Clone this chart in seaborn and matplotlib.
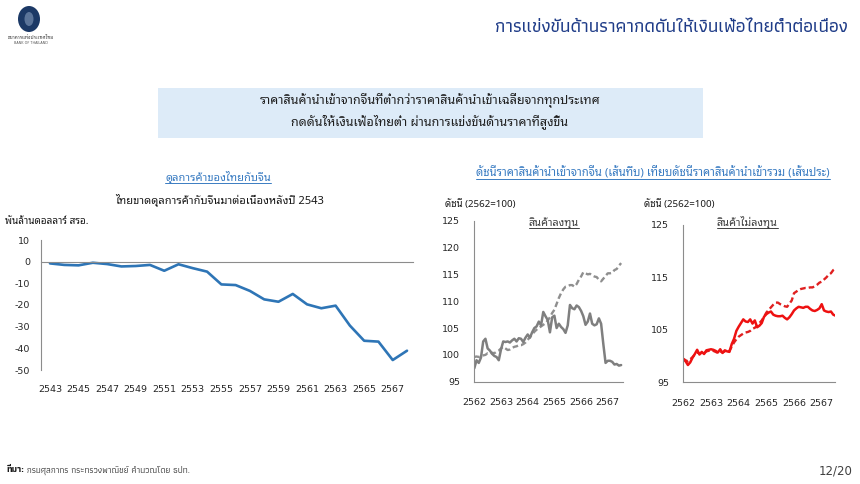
import matplotlib
matplotlib.use("Agg")
import matplotlib.pyplot as plt
import matplotlib.patches as mpatches
from matplotlib.lines import Line2D
import numpy as np
import pandas as pd
import seaborn as sns

# ---------------- data ----------------
trade_years = list(range(2543, 2569))
trade_balance = [-0.8, -1.5, -1.7, -0.5, -1.1, -2.2, -2.0, -1.5, -4.2, -1.2,
                 -3.0, -4.6, -10.5, -10.8, -13.5, -17.4, -18.5, -14.9, -19.7, -21.5,
                 -20.3, -29.5, -36.5, -36.9, -45.4, -41.1]

n_months = 67  # Jan 2562 .. Jul 2567
cap_china = [97.5, 99.0, 98.5, 99.5, 102.5, 103.0, 101.2, 100.8, 100.2, 99.8,
             99.6, 99.0, 101.0, 102.5, 102.4, 102.5, 102.3, 102.7, 103.0, 102.5,
             103.1, 103.0, 102.4, 103.2, 103.8, 103.2, 104.2, 105.0, 105.3, 106.2,
             105.5, 108.0, 107.2, 106.5, 104.2, 107.0, 107.3, 105.0, 105.8, 105.2,
             104.8, 104.1, 105.5, 109.3, 108.7, 108.5, 109.2, 108.9, 108.2, 107.2,
             105.6, 106.2, 107.7, 105.8, 105.5, 105.7, 106.8, 105.8, 102.0, 98.5,
             98.9, 98.9, 98.7, 98.2, 98.3, 98.0, 98.1]
cap_total = [99.6, 99.7, 99.6, 99.8, 99.9, 100.0, 100.3, 100.2, 100.4, 100.3,
             100.6, 100.8, 101.2, 101.5, 101.2, 100.9, 101.0, 101.3, 101.5, 101.6,
             101.8, 101.8, 102.0, 102.3, 102.8, 103.3, 103.8, 104.3, 104.7, 105.0,
             105.3, 105.6, 105.9, 106.4, 107.0, 107.8, 108.4, 109.5, 110.6, 111.5,
             112.2, 112.7, 112.8, 113.0, 113.0, 112.7, 113.2, 114.0, 114.6, 115.4,
             115.2, 115.0, 115.1, 114.8, 114.6, 114.5, 114.0, 113.7, 114.2, 114.7,
             115.2, 115.2, 115.3, 115.8, 116.0, 116.6, 117.1]
noncap_china = [99.4, 99.0, 98.3, 98.8, 99.7, 100.4, 101.2, 100.3, 100.8, 100.4,
                101.1, 101.2, 101.3, 101.2, 101.0, 100.7, 101.3, 100.6, 101.1, 100.9,
                100.8, 102.3, 103.3, 104.8, 105.6, 106.3, 107.0, 106.6, 106.5, 107.0,
                106.2, 106.8, 105.5, 105.8, 106.3, 107.5, 108.0, 108.3, 108.5, 107.9,
                107.7, 107.6, 107.6, 107.7, 107.3, 107.0, 107.4, 108.0, 108.7, 109.1,
                109.4, 109.3, 109.2, 109.4, 109.4, 109.0, 108.7, 108.6, 108.8, 109.1,
                109.9, 108.7, 108.5, 108.4, 108.5, 107.9, 107.7]
noncap_total = [99.5, 99.2, 99.0, 99.4, 99.8, 100.3, 100.7, 100.5, 100.6, 100.5,
                100.9, 101.0, 101.1, 101.0, 100.8, 100.6, 100.9, 100.7, 100.9, 100.8,
                101.0, 101.8, 102.6, 103.2, 103.7, 104.0, 104.3, 104.5, 104.6, 104.8,
                105.2, 105.4, 105.8, 106.3, 106.8, 107.5, 108.3, 108.8, 109.3, 109.8,
                110.2, 110.2, 109.9, 109.7, 109.5, 109.4, 110.0, 110.6, 112.0, 112.3,
                112.6, 112.8, 112.9, 113.0, 113.0, 113.1, 113.1, 113.3, 113.6, 114.0,
                114.2, 114.6, 115.0, 115.5, 115.8, 116.4, 116.7]

trade_ticks = list(range(2543, 2568, 2))
trade_yticks = [10, 0, -10, -20, -30, -40, -50]
idx_years = [2562, 2563, 2564, 2565, 2566, 2567]
cap_yticks = [95, 100, 105, 110, 115, 120, 125]
noncap_yticks = [95, 105, 115, 125]

title_txt = "การแข่งขันด้านราคากดดันให้เงินเฟ้อไทยต่ำต่อเนื่อง"
box_line1 = "ราคาสินค้านำเข้าจากจีนที่ต่ำกว่าราคาสินค้านำเข้าเฉลี่ยจากทุกประเทศ"
box_line2 = "กดดันให้เงินเฟ้อไทยต่ำ ผ่านการแข่งขันด้านราคาที่สูงขึ้น"
left_head = "ดุลการค้าของไทยกับจีน"
left_sub = "ไทยขาดดุลการค้ากับจีนมาต่อเนื่องหลังปี 2543"
left_unit = "พันล้านดอลลาร์ สรอ."
right_head = "ดัชนีราคาสินค้านำเข้าจากจีน (เส้นทึบ) เทียบดัชนีราคาสินค้านำเข้ารวม (เส้นประ)"
idx_unit = "ดัชนี (2562=100)"
cap_label = "สินค้าลงทุน"
noncap_label = "สินค้าไม่ลงทุน"
src_head = "ที่มา:"
src_body = " กรมศุลกากร กระทรวงพาณิชย์ คำนวณโดย ธปท."
page_txt = "12/20"

df_trade = pd.DataFrame({"year": trade_years, "balance": trade_balance})
months = np.arange(n_months)
df_idx = pd.DataFrame({"t": 2562 + months / 12.0,
                       "cap_china": cap_china, "cap_total": cap_total,
                       "noncap_china": noncap_china, "noncap_total": noncap_total})

# ---------------- style ----------------
sns.set_style("white")
BODY = ['Noto Sans Thai Looped', 'Sarabun', 'Noto Sans Thai', 'Bai Jamjuree', 'DejaVu Sans']
TITLEF = ['Athiti', 'Noto Sans Thai', 'Bai Jamjuree', 'DejaVu Sans']
NUM = ['DejaVu Sans']
NARROW = ['Liberation Sans Narrow', 'DejaVu Sans']
plt.rcParams['font.family'] = BODY
plt.rcParams['axes.unicode_minus'] = False

W, H = 860, 484
fig = plt.figure(figsize=(W / 100, H / 100), dpi=100)
fig.patch.set_facecolor("white")

def fx(x):
    return x / W

def fy(y):
    return 1 - y / H

BLUE_T = '#3A7CC2'
SPINE = '#8C8C8C'

# logo
fig.add_artist(mpatches.Ellipse((fx(29), fy(19)), 22 / W, 26 / H, transform=fig.transFigure,
                                facecolor='#1C3966', edgecolor='none'))
fig.add_artist(mpatches.Ellipse((fx(29), fy(19)), 9 / W, 14 / H, transform=fig.transFigure,
                                facecolor='#8FA6C4', edgecolor='none', alpha=0.55))
fig.text(fx(31), fy(37), "ธนาคารแห่งประเทศไทย", ha='center', va='center', fontsize=3.4,
         color='#333333', family=BODY)
fig.text(fx(31), fy(42.5), "BANK OF THAILAND", ha='center', va='center', fontsize=2.4,
         color='#555555', family=NUM)

# title
fig.text(fx(848), fy(28), title_txt, ha='right', va='center', fontsize=13.4,
         color='#1F3C88', family=TITLEF, weight='medium')

# box
fig.add_artist(mpatches.Rectangle((fx(158), fy(138)), 545 / W, 50 / H, transform=fig.transFigure,
                                  facecolor='#DDEBF8', edgecolor='none', zorder=0))
fig.text(fx(430), fy(101), box_line1, ha='center', va='center', fontsize=9, color='#1F1F1F')
fig.text(fx(430), fy(122), box_line2, ha='center', va='center', fontsize=9, color='#1F1F1F')

underlined = []
t = fig.text(fx(218), fy(181), left_head, ha='center', va='baseline', fontsize=8, color=BLUE_T)
underlined.append((t, BLUE_T))
fig.text(fx(220), fy(200), left_sub, ha='center', va='center', fontsize=8, color='#1A1A1A',
         weight='medium')
fig.text(fx(5), fy(222), left_unit, ha='left', va='center', fontsize=7.2, color='#1A1A1A')
t = fig.text(fx(653), fy(177), right_head, ha='center', va='baseline', fontsize=8.2, color=BLUE_T)
underlined.append((t, BLUE_T))
fig.text(fx(445), fy(204), idx_unit, ha='left', va='center', fontsize=7, color='#1A1A1A')
fig.text(fx(644), fy(204), idx_unit, ha='left', va='center', fontsize=7, color='#1A1A1A')
t = fig.text(fx(554), fy(226), cap_label, ha='center', va='baseline', fontsize=7.8, color='#404040')
underlined.append((t, '#404040'))
t = fig.text(fx(747), fy(226), noncap_label, ha='center', va='baseline', fontsize=7.8, color='#404040')
underlined.append((t, '#404040'))

# footer
t_src = fig.text(fx(6), fy(470), src_head, ha='left', va='center', fontsize=6.5,
                 color='#1A1A1A', weight='bold', family=TITLEF)
fig.text(fx(853), fy(471), page_txt, ha='right', va='center', fontsize=8.5, color='#404040',
         family=NARROW)

# ---------------- left chart ----------------
ax1 = fig.add_axes([fx(41), fy(370), 372 / W, 130 / H])
sns.lineplot(data=df_trade, x="year", y="balance", ax=ax1, color='#2E75B6', linewidth=1.9)
ax1.set_xlim(2542.37, 2568.42)
ax1.set_ylim(-50, 10)
ax1.set_yticks(trade_yticks)
ax1.spines['top'].set_visible(False)
ax1.spines['right'].set_visible(False)
ax1.spines['bottom'].set_position(('data', 0))
for s in ('left', 'bottom'):
    ax1.spines[s].set_color(SPINE)
    ax1.spines[s].set_linewidth(0.8)
ax1.set_xticks(trade_years)
ax1.tick_params(axis='x', direction='in', length=4, color=SPINE, labelbottom=False, width=0.8)
ax1.tick_params(axis='y', direction='out', length=3, color=SPINE, width=0.8, pad=5,
                labelsize=6.8, labelcolor='#262626')
ax1.set_xlabel("")
ax1.set_ylabel("")
for lab in ax1.get_yticklabels():
    lab.set_family(NUM)
sec = ax1.secondary_xaxis('bottom')
sec.set_xticks(trade_ticks)
sec.spines['bottom'].set_visible(False)
sec.tick_params(length=0, pad=11, labelsize=6.8, labelcolor='#262626')
for lab in sec.get_xticklabels():
    lab.set_family(NUM)

# ---------------- index charts ----------------
def index_axes(rect, xmax, china, total, color, dash_color, yticks):
    ax = fig.add_axes(rect)
    sns.lineplot(data=df_idx, x="t", y=total, ax=ax, color=dash_color, linewidth=1.7,
                 linestyle=(0, (2.4, 1.3)))
    sns.lineplot(data=df_idx, x="t", y=china, ax=ax, color=color, linewidth=1.8)
    ax.set_xlim(2562, xmax)
    ax.set_ylim(95, 125)
    ax.set_yticks(yticks)
    ax.set_xticks(idx_years)
    ax.set_xticklabels([str(y) for y in idx_years])
    ax.spines['top'].set_visible(False)
    ax.spines['right'].set_visible(False)
    for s in ('left', 'bottom'):
        ax.spines[s].set_color(SPINE)
        ax.spines[s].set_linewidth(0.8)
    ax.tick_params(axis='x', direction='out', length=3, color=SPINE, width=0.8, pad=9,
                   labelsize=6.8, labelcolor='#262626')
    ax.tick_params(axis='y', direction='out', length=3, color=SPINE, width=0.8, pad=7,
                   labelsize=6.8, labelcolor='#262626')
    for lab in ax.get_xticklabels() + ax.get_yticklabels():
        lab.set_family(NUM)
    ax.set_xlabel("")
    ax.set_ylabel("")
    return ax

index_axes([fx(474.3), fy(381.7), 148.7 / W, 161 / H], 2567.57,
           "cap_china", "cap_total", '#7F7F7F', '#8F8F8F', cap_yticks)
index_axes([fx(683.3), fy(382.3), 151.7 / W, 157.3 / H], 2567.48,
           "noncap_china", "noncap_total", '#EE1111', '#E02020', noncap_yticks)

# ---------------- underlines & footer body ----------------
fig.canvas.draw()
r = fig.canvas.get_renderer()
for t, c in underlined:
    bb = t.get_window_extent(r)
    x0, y0 = t.get_position()
    yl = y0 - 1.6 / H
    fig.add_artist(Line2D([bb.x0 / W, bb.x1 / W], [yl, yl], transform=fig.transFigure,
                          color=c, linewidth=0.7))
bb = t_src.get_window_extent(r)
fig.text(bb.x1 / W, fy(470), src_body, ha='left', va='center', fontsize=6.5,
         color='#1A1A1A', family=TITLEF)

fig.savefig("out.png", dpi=100, facecolor='white')
